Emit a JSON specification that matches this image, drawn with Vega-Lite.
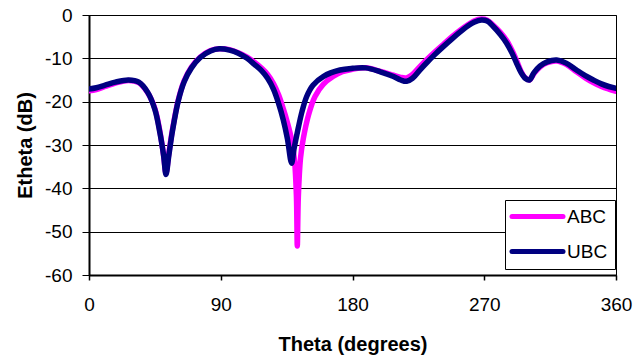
{
  "$schema": "https://vega.github.io/schema/vega-lite/v6.json",
  "width": 527,
  "height": 260,
  "autosize": {"type": "none"},
  "padding": {"left": 89, "top": 15, "right": 18, "bottom": 81},
  "background": "white",
  "config": {
    "view": {"stroke": "black", "strokeWidth": 1},
    "font": "Liberation Sans"
  },
  "datasets": {
    "curves": [
      {"theta": 0, "db": -17.5, "series": "ABC"},
      {"theta": 5, "db": -17.2, "series": "ABC"},
      {"theta": 11, "db": -16.5, "series": "ABC"},
      {"theta": 18, "db": -15.7, "series": "ABC"},
      {"theta": 27, "db": -15.1, "series": "ABC"},
      {"theta": 34, "db": -15.6, "series": "ABC"},
      {"theta": 40, "db": -17.9, "series": "ABC"},
      {"theta": 45, "db": -21.6, "series": "ABC"},
      {"theta": 48.5, "db": -27.0, "series": "ABC"},
      {"theta": 51, "db": -32.5, "series": "ABC"},
      {"theta": 52.6, "db": -36.5, "series": "ABC"},
      {"theta": 54.5, "db": -32.0, "series": "ABC"},
      {"theta": 57, "db": -26.5, "series": "ABC"},
      {"theta": 61, "db": -19.6, "series": "ABC"},
      {"theta": 65, "db": -15.2, "series": "ABC"},
      {"theta": 70, "db": -12.0, "series": "ABC"},
      {"theta": 76, "db": -9.7, "series": "ABC"},
      {"theta": 83, "db": -8.2, "series": "ABC"},
      {"theta": 89, "db": -7.8, "series": "ABC"},
      {"theta": 96, "db": -8.0, "series": "ABC"},
      {"theta": 102, "db": -8.7, "series": "ABC"},
      {"theta": 108, "db": -9.7, "series": "ABC"},
      {"theta": 113, "db": -10.9, "series": "ABC"},
      {"theta": 118, "db": -12.3, "series": "ABC"},
      {"theta": 122, "db": -13.7, "series": "ABC"},
      {"theta": 126, "db": -15.8, "series": "ABC"},
      {"theta": 129.5, "db": -18.4, "series": "ABC"},
      {"theta": 132.7, "db": -21.6, "series": "ABC"},
      {"theta": 135.5, "db": -24.8, "series": "ABC"},
      {"theta": 138.4, "db": -28.8, "series": "ABC"},
      {"theta": 140.5, "db": -34.0, "series": "ABC"},
      {"theta": 141.7, "db": -42.0, "series": "ABC"},
      {"theta": 142.3, "db": -53.3, "series": "ABC"},
      {"theta": 143, "db": -42.0, "series": "ABC"},
      {"theta": 144.5, "db": -33.0, "series": "ABC"},
      {"theta": 146.4, "db": -28.5, "series": "ABC"},
      {"theta": 150, "db": -23.0, "series": "ABC"},
      {"theta": 154.4, "db": -18.8, "series": "ABC"},
      {"theta": 160, "db": -16.0, "series": "ABC"},
      {"theta": 166.7, "db": -14.2, "series": "ABC"},
      {"theta": 173, "db": -13.1, "series": "ABC"},
      {"theta": 180, "db": -12.5, "series": "ABC"},
      {"theta": 189, "db": -12.2, "series": "ABC"},
      {"theta": 199, "db": -13.0, "series": "ABC"},
      {"theta": 208, "db": -13.9, "series": "ABC"},
      {"theta": 213, "db": -14.4, "series": "ABC"},
      {"theta": 217, "db": -14.5, "series": "ABC"},
      {"theta": 221, "db": -13.7, "series": "ABC"},
      {"theta": 226, "db": -11.9, "series": "ABC"},
      {"theta": 231, "db": -10.2, "series": "ABC"},
      {"theta": 236, "db": -8.6, "series": "ABC"},
      {"theta": 242, "db": -6.8, "series": "ABC"},
      {"theta": 248, "db": -5.0, "series": "ABC"},
      {"theta": 254, "db": -3.4, "series": "ABC"},
      {"theta": 259, "db": -2.2, "series": "ABC"},
      {"theta": 263, "db": -1.4, "series": "ABC"},
      {"theta": 268, "db": -0.95, "series": "ABC"},
      {"theta": 272, "db": -1.2, "series": "ABC"},
      {"theta": 276, "db": -2.3, "series": "ABC"},
      {"theta": 281, "db": -4.0, "series": "ABC"},
      {"theta": 285.3, "db": -5.9, "series": "ABC"},
      {"theta": 289, "db": -8.2, "series": "ABC"},
      {"theta": 292.2, "db": -10.6, "series": "ABC"},
      {"theta": 295, "db": -12.9, "series": "ABC"},
      {"theta": 298, "db": -14.5, "series": "ABC"},
      {"theta": 300.8, "db": -15.0, "series": "ABC"},
      {"theta": 304, "db": -13.5, "series": "ABC"},
      {"theta": 308, "db": -12.0, "series": "ABC"},
      {"theta": 313, "db": -11.0, "series": "ABC"},
      {"theta": 319.5, "db": -10.6, "series": "ABC"},
      {"theta": 326, "db": -11.4, "series": "ABC"},
      {"theta": 333, "db": -13.1, "series": "ABC"},
      {"theta": 339, "db": -14.5, "series": "ABC"},
      {"theta": 344.5, "db": -15.6, "series": "ABC"},
      {"theta": 350, "db": -16.5, "series": "ABC"},
      {"theta": 355, "db": -17.1, "series": "ABC"},
      {"theta": 360, "db": -17.6, "series": "ABC"},

      {"theta": 0, "db": -17.1, "series": "UBC"},
      {"theta": 5, "db": -16.8, "series": "UBC"},
      {"theta": 11, "db": -16.2, "series": "UBC"},
      {"theta": 18, "db": -15.5, "series": "UBC"},
      {"theta": 27, "db": -15.0, "series": "UBC"},
      {"theta": 34, "db": -15.5, "series": "UBC"},
      {"theta": 40, "db": -17.8, "series": "UBC"},
      {"theta": 45, "db": -21.8, "series": "UBC"},
      {"theta": 48.5, "db": -27.3, "series": "UBC"},
      {"theta": 51, "db": -32.5, "series": "UBC"},
      {"theta": 52.6, "db": -36.8, "series": "UBC"},
      {"theta": 54.5, "db": -32.5, "series": "UBC"},
      {"theta": 57, "db": -26.8, "series": "UBC"},
      {"theta": 61, "db": -19.8, "series": "UBC"},
      {"theta": 65, "db": -15.4, "series": "UBC"},
      {"theta": 70, "db": -12.2, "series": "UBC"},
      {"theta": 76, "db": -9.8, "series": "UBC"},
      {"theta": 83, "db": -8.3, "series": "UBC"},
      {"theta": 89, "db": -7.8, "series": "UBC"},
      {"theta": 96, "db": -8.1, "series": "UBC"},
      {"theta": 102, "db": -8.8, "series": "UBC"},
      {"theta": 108, "db": -10.0, "series": "UBC"},
      {"theta": 113, "db": -11.4, "series": "UBC"},
      {"theta": 118, "db": -12.9, "series": "UBC"},
      {"theta": 122, "db": -14.6, "series": "UBC"},
      {"theta": 126, "db": -17.1, "series": "UBC"},
      {"theta": 129.5, "db": -20.4, "series": "UBC"},
      {"theta": 132.7, "db": -24.2, "series": "UBC"},
      {"theta": 135.5, "db": -28.5, "series": "UBC"},
      {"theta": 138.4, "db": -34.2, "series": "UBC"},
      {"theta": 140, "db": -31.0, "series": "UBC"},
      {"theta": 143, "db": -26.0, "series": "UBC"},
      {"theta": 145.5, "db": -22.3, "series": "UBC"},
      {"theta": 148.7, "db": -18.8, "series": "UBC"},
      {"theta": 153, "db": -16.2, "series": "UBC"},
      {"theta": 160, "db": -14.2, "series": "UBC"},
      {"theta": 171.5, "db": -12.7, "series": "UBC"},
      {"theta": 180, "db": -12.3, "series": "UBC"},
      {"theta": 189, "db": -12.2, "series": "UBC"},
      {"theta": 199, "db": -13.1, "series": "UBC"},
      {"theta": 208, "db": -14.2, "series": "UBC"},
      {"theta": 213, "db": -15.0, "series": "UBC"},
      {"theta": 217, "db": -15.3, "series": "UBC"},
      {"theta": 221, "db": -14.6, "series": "UBC"},
      {"theta": 226, "db": -12.7, "series": "UBC"},
      {"theta": 231, "db": -10.9, "series": "UBC"},
      {"theta": 236, "db": -9.2, "series": "UBC"},
      {"theta": 242, "db": -7.3, "series": "UBC"},
      {"theta": 248, "db": -5.5, "series": "UBC"},
      {"theta": 254, "db": -3.8, "series": "UBC"},
      {"theta": 259, "db": -2.5, "series": "UBC"},
      {"theta": 263, "db": -1.7, "series": "UBC"},
      {"theta": 268, "db": -1.15, "series": "UBC"},
      {"theta": 272, "db": -1.4, "series": "UBC"},
      {"theta": 276, "db": -2.6, "series": "UBC"},
      {"theta": 281, "db": -4.5, "series": "UBC"},
      {"theta": 285.3, "db": -6.5, "series": "UBC"},
      {"theta": 289, "db": -8.8, "series": "UBC"},
      {"theta": 292.2, "db": -11.2, "series": "UBC"},
      {"theta": 295, "db": -13.2, "series": "UBC"},
      {"theta": 298, "db": -14.6, "series": "UBC"},
      {"theta": 300.8, "db": -15.0, "series": "UBC"},
      {"theta": 304, "db": -13.3, "series": "UBC"},
      {"theta": 308, "db": -11.8, "series": "UBC"},
      {"theta": 313, "db": -10.8, "series": "UBC"},
      {"theta": 319.5, "db": -10.4, "series": "UBC"},
      {"theta": 326, "db": -11.1, "series": "UBC"},
      {"theta": 333, "db": -12.7, "series": "UBC"},
      {"theta": 339, "db": -14.0, "series": "UBC"},
      {"theta": 344.5, "db": -15.0, "series": "UBC"},
      {"theta": 350, "db": -15.9, "series": "UBC"},
      {"theta": 355, "db": -16.5, "series": "UBC"},
      {"theta": 360, "db": -16.9, "series": "UBC"}
    ]
  },
  "data": {"name": "curves"},
  "mark": {"type": "line", "strokeWidth": 5.5, "interpolate": "catmull-rom", "strokeCap": "round", "strokeJoin": "round", "clip": true},
  "encoding": {
    "x": {
      "field": "theta", "type": "quantitative",
      "scale": {"domain": [0, 360], "nice": false, "zero": false},
      "axis": {
        "values": [0, 90, 180, 270, 360],
        "labelExpr": "'' + datum.value",
        "title": "Theta (degrees)",
        "titleFont": "Liberation Sans", "titleFontSize": 20, "titleFontWeight": "bold", "titleColor": "black",
        "titlePadding": 20,
        "labelFont": "Liberation Sans", "labelFontSize": 19, "labelColor": "black",
        "labelPadding": 15, "tickSize": 5, "tickColor": "black", "tickWidth": 1.5,
        "domainColor": "black", "domainWidth": 2, "grid": false, "labelFlush": false
      }
    },
    "y": {
      "field": "db", "type": "quantitative",
      "scale": {"domain": [-60, 0], "nice": false, "zero": false},
      "axis": {
        "values": [-60, -50, -40, -30, -20, -10, 0],
        "labelExpr": "'' + datum.value",
        "title": "Etheta (dB)",
        "titleFont": "Liberation Sans", "titleFontSize": 20, "titleFontWeight": "bold", "titleColor": "black",
        "titlePadding": 9,
        "labelFont": "Liberation Sans", "labelFontSize": 19, "labelColor": "black",
        "labelPadding": 10, "tickSize": 7, "tickColor": "black", "tickWidth": 1,
        "domainColor": "black", "domainWidth": 2,
        "grid": true, "gridColor": "black", "gridWidth": 1, "gridOpacity": 1, "labelFlush": false
      }
    },
    "color": {
      "field": "series", "type": "nominal",
      "scale": {"domain": ["ABC", "UBC"], "range": ["#FF00FF", "#000080"]},
      "legend": {
        "orient": "none", "legendX": 416, "legendY": 185,
        "title": null,
        "symbolType": "M-1.9,0H8.3", "symbolSize": 100, "symbolStrokeWidth": 5,
        "labelFont": "Liberation Sans", "labelFontSize": 19, "labelColor": "black",
        "labelOffset": 36, "rowPadding": 14, "padding": 7,
        "strokeColor": "black", "fillColor": "white",
        "encode": {"symbols": {"update": {"strokeCap": {"value": "round"}}}}
      }
    }
  }
}
